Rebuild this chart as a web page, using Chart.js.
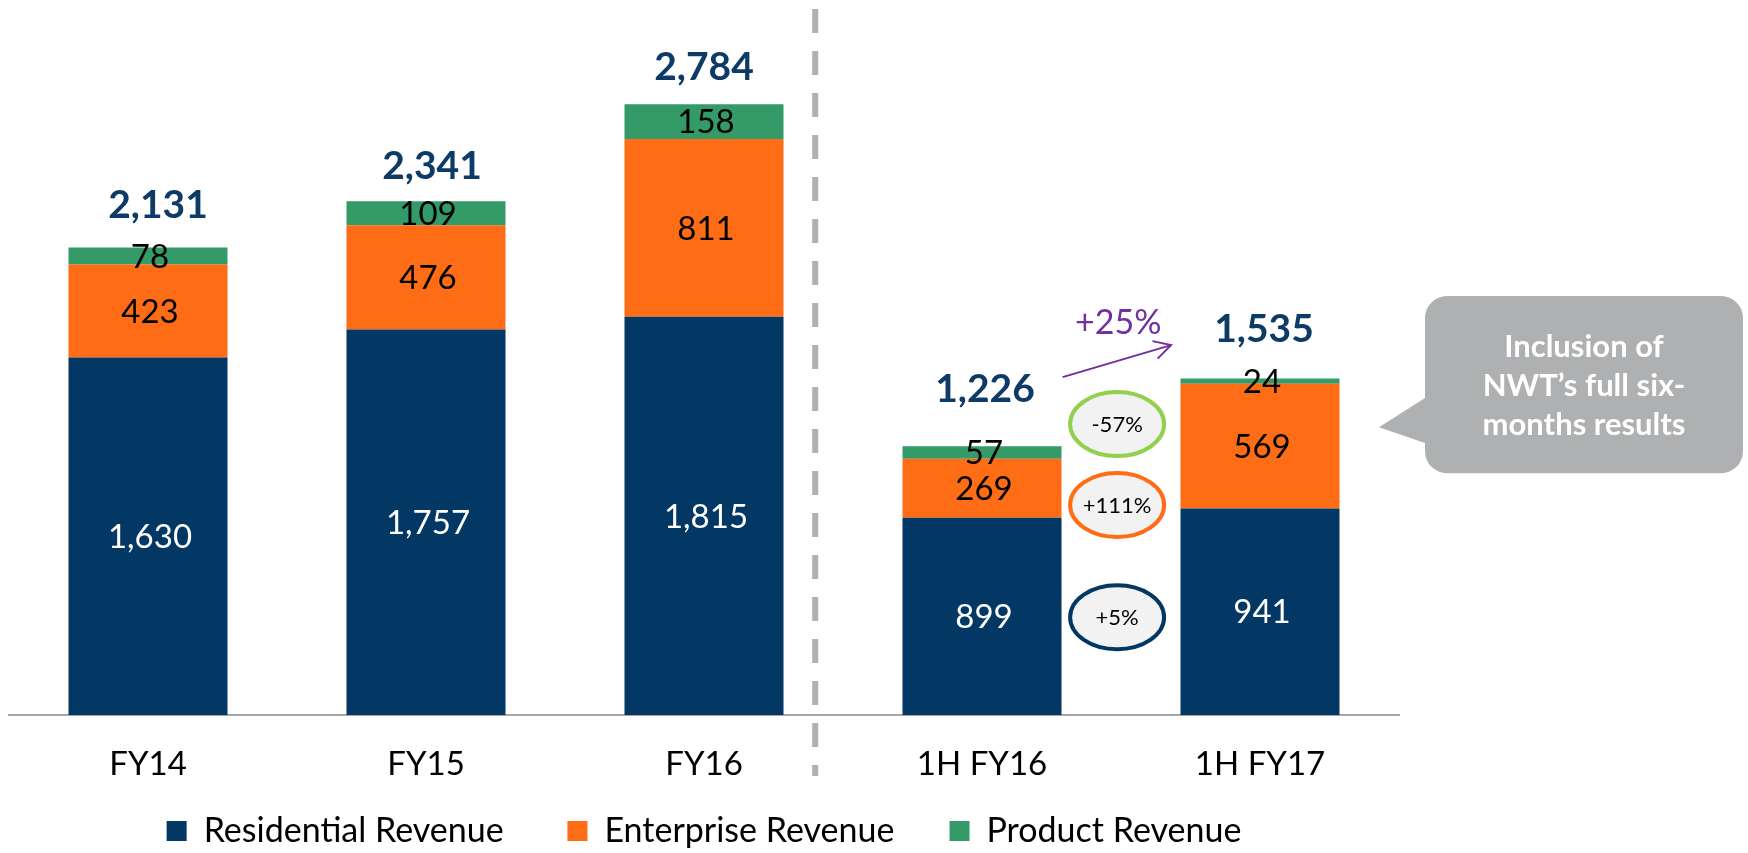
<!DOCTYPE html>
<html>
<head>
<meta charset="utf-8">
<script src="https://cdn.jsdelivr.net/npm/chart.js@4.4.1/dist/chart.umd.min.js"></script>
<style>
  html, body { margin: 0; padding: 0; background: #fff; }
  #wrap { width: 1748px; height: 853px; position: relative; }
</style>
</head>
<body>
<div id="wrap"><canvas id="revenue-chart"></canvas></div>
<script>
const periods = ['FY14', 'FY15', 'FY16', '1H FY16', '1H FY17'];
const residential = [1630, 1757, 1815, 899, 941];
const enterprise = [423, 476, 811, 269, 569];
const product = [78, 109, 158, 57, 24];
const totals = [2131, 2341, 2784, 1226, 1535];

const changeLabels = ['-57%', '+111%', '+5%'];
const growthLabel = '+25%';
const calloutLines = ['Inclusion of', 'NWT\u2019s full six-', 'months results'];

const NAVY = '#023863';
const ORANGE = '#ff6c16';
const GREEN = '#349a68';
const fmt = v => v.toLocaleString('en-US');

// where the bold totals sit relative to the top of each bar
const totalLift = [42, 35, 37, 57, 49];
const totalShift = [10, 6, 0, 3, 4];
// extra room after a legend entry
const legendGap = ['    ', '   ', ''];

const annotations = {
    id: 'annotations',
    beforeDatasetsDraw(chart) {
        const ctx = chart.ctx;
        const x = chart.scales.x.getPixelForValue(2.4);
        ctx.save();
        ctx.strokeStyle = '#b0b0b0';
        ctx.lineWidth = 6;
        ctx.setLineDash([24, 18]);
        ctx.beginPath();
        ctx.moveTo(x, 9);
        ctx.lineTo(x, 776);
        ctx.stroke();
        ctx.restore();
    },
    afterDatasetsDraw(chart) {
        const ctx = chart.ctx;
        const xs = chart.scales.x;
        const ys = chart.scales.y;
        ctx.save();
        ctx.textAlign = 'center';
        ctx.textBaseline = 'middle';

        // segment values
        ctx.font = '33px Lato';
        chart.data.datasets.forEach((ds, i) => {
            const meta = chart.getDatasetMeta(i);
            meta.data.forEach((bar, j) => {
                ctx.fillStyle = i === 0 ? '#ffffff' : '#000000';
                ctx.fillText(fmt(ds.data[j]), bar.x + 2, (bar.y + bar.base) / 2 + 1);
            });
        });

        // totals
        ctx.font = 'bold 39px Lato';
        ctx.fillStyle = '#0d3b66';
        const top = chart.getDatasetMeta(2).data;
        top.forEach((bar, j) => {
            ctx.fillText(fmt(totals[j]), bar.x + totalShift[j], bar.y - totalLift[j]);
        });

        // change ellipses between the half-year bars
        const ex = xs.getPixelForValue(3.486);
        const ellipseY = [1326, 957, 446];
        const ellipseStroke = ['#92d050', ORANGE, NAVY];
        ctx.font = '22px Lato';
        changeLabels.forEach((txt, k) => {
            const ey = ys.getPixelForValue(ellipseY[k]);
            ctx.beginPath();
            ctx.ellipse(ex, ey, 47, 32, 0, 0, Math.PI * 2);
            ctx.fillStyle = '#f2f2f2';
            ctx.fill();
            ctx.lineWidth = 4;
            ctx.strokeStyle = ellipseStroke[k];
            ctx.stroke();
            ctx.fillStyle = '#000';
            ctx.fillText(txt, ex, ey + 1);
        });

        // growth arrow
        const ax1 = xs.getPixelForValue(3.29), ay1 = ys.getPixelForValue(1540);
        const ax2 = xs.getPixelForValue(3.68), ay2 = ys.getPixelForValue(1686);
        const ang = Math.atan2(ay2 - ay1, ax2 - ax1);
        ctx.strokeStyle = '#7030a0';
        ctx.lineWidth = 2;
        ctx.beginPath();
        ctx.moveTo(ax1, ay1);
        ctx.lineTo(ax2, ay2);
        ctx.moveTo(ax2 - 19 * Math.cos(ang - 0.5), ay2 - 19 * Math.sin(ang - 0.5));
        ctx.lineTo(ax2, ay2);
        ctx.lineTo(ax2 - 19 * Math.cos(ang + 0.5), ay2 - 19 * Math.sin(ang + 0.5));
        ctx.stroke();
        ctx.font = '34px Lato';
        ctx.fillStyle = '#7030a0';
        ctx.fillText(growthLabel, xs.getPixelForValue(3.49), ys.getPixelForValue(1786));

        // callout bubble
        const right = chart.chartArea.right;
        const L = right + 26, R = right + 344, r = 22;
        const T = ys.getPixelForValue(1910), B = ys.getPixelForValue(1102);
        ctx.fillStyle = '#afb0b1';
        ctx.beginPath();
        ctx.moveTo(L + r, T);
        ctx.lineTo(R - r, T);
        ctx.arcTo(R, T, R, T + r, r);
        ctx.lineTo(R, B - r);
        ctx.arcTo(R, B, R - r, B, r);
        ctx.lineTo(L + r, B);
        ctx.arcTo(L, B, L, B - r, r);
        ctx.lineTo(L, ys.getPixelForValue(1240));
        ctx.lineTo(right - 20, ys.getPixelForValue(1312));
        ctx.lineTo(L, ys.getPixelForValue(1445));
        ctx.lineTo(L, T + r);
        ctx.arcTo(L, T, L + r, T, r);
        ctx.closePath();
        ctx.fill();
        ctx.fillStyle = '#ffffff';
        ctx.font = 'bold 31px Lato';
        calloutLines.forEach((line, k) => {
            ctx.fillText(line, (L + R) / 2, (T + B) / 2 - 38 + k * 39);
        });
        ctx.restore();
    }
};

function buildChart() {
    Chart.defaults.font.family = 'Lato';
    const ctx = document.getElementById('revenue-chart');

    const config = {
        type: 'bar',
        data: {
            labels: periods,
            datasets: [
                { label: 'Residential Revenue', data: residential, backgroundColor: NAVY },
                { label: 'Enterprise Revenue', data: enterprise, backgroundColor: ORANGE },
                { label: 'Product Revenue', data: product, backgroundColor: GREEN }
            ]
        },
        options: {
            responsive: true,
            maintainAspectRatio: false,
            animation: false,
            events: [],
            barPercentage: 0.572,
            categoryPercentage: 1,
            layout: {
                padding: { left: 9, right: 349, top: 13, bottom: -5 }
            },
            plugins: {
                tooltip: { enabled: false },
                legend: {
                    position: 'bottom',
                    fullSize: false,
                    labels: {
                        boxWidth: 20,
                        boxHeight: 20,
                        padding: 29,
                        color: '#000',
                        font: { size: 34 },
                        generateLabels(chart) {
                            const items = Chart.defaults.plugins.legend.labels.generateLabels(chart);
                            items.forEach((it, i) => { it.text += legendGap[i]; });
                            return items;
                        }
                    }
                }
            },
            scales: {
                x: {
                    stacked: true,
                    grid: { display: false, drawTicks: false },
                    border: { display: true, color: '#a6a6a6', width: 2 },
                    ticks: { color: '#000', font: { size: 33 }, padding: 30 },
                    afterFit(scale) {
                        scale.height = 70;
                    }
                },
                y: {
                    stacked: true,
                    display: false,
                    min: 0,
                    max: 3200
                }
            }
        },
        plugins: [annotations]
    };

    new Chart(ctx, config);
}

if (document.fonts && document.fonts.load) {
    Promise.all([
        document.fonts.load('33px Lato'),
        document.fonts.load('bold 39px Lato')
    ]).then(buildChart, buildChart);
} else {
    buildChart();
}
</script>
</body>
</html>
